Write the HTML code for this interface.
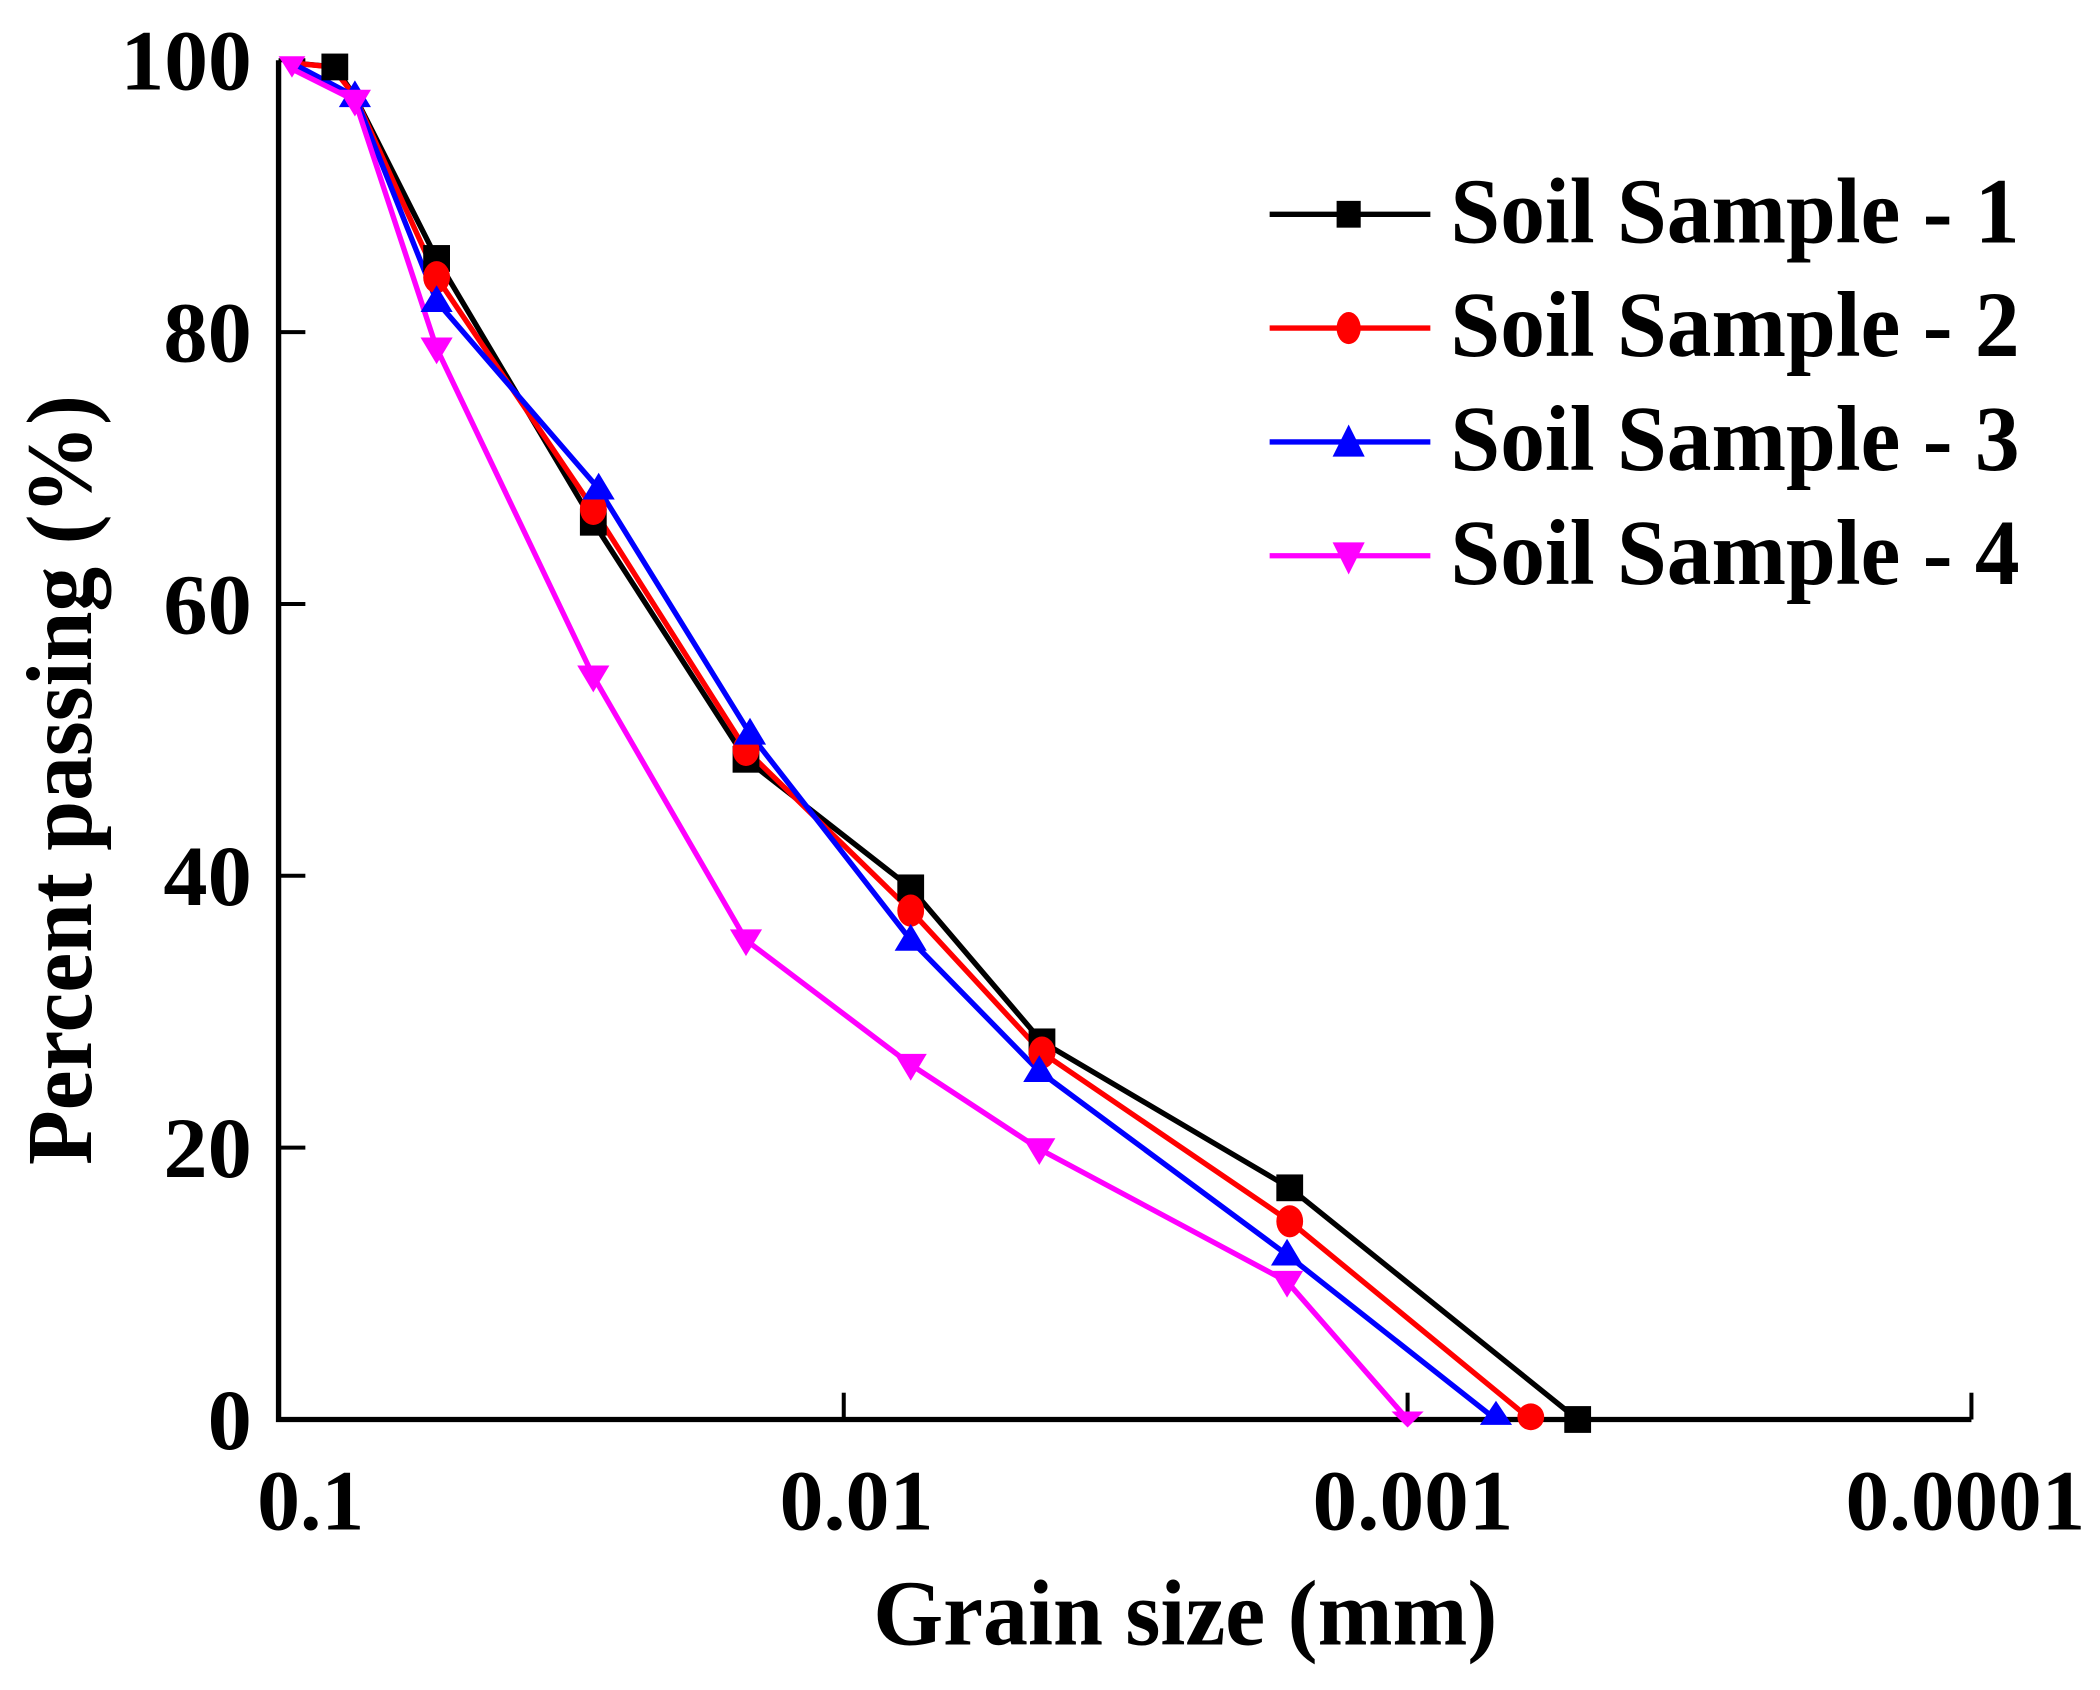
<!DOCTYPE html>
<html><head><meta charset="utf-8"><style>html,body{margin:0;padding:0;background:#fff}svg{display:block}</style></head>
<body>
<svg width="2100" height="1690" viewBox="0 0 1568 1262" preserveAspectRatio="none" xmlns="http://www.w3.org/2000/svg" font-family="'Liberation Serif', serif" font-weight="bold">
<rect width="1568" height="1262" fill="#fff"/>
<path d="M208 45 V1060 H1472" fill="none" stroke="#000" stroke-width="4"/>
<g stroke="#000" stroke-width="3">
<line x1="208" y1="248" x2="228" y2="248"/><line x1="208" y1="451" x2="228" y2="451"/>
<line x1="208" y1="654" x2="228" y2="654"/><line x1="208" y1="857" x2="228" y2="857"/>
<line x1="208" y1="45" x2="228" y2="45"/>
<line x1="630" y1="1060" x2="630" y2="1040"/><line x1="1051" y1="1060" x2="1051" y2="1040"/><line x1="1472" y1="1060" x2="1472" y2="1040"/>
</g>
<g font-size="64" text-anchor="end">
<text x="188" y="67" textLength="98" lengthAdjust="spacingAndGlyphs">100</text>
<text x="188" y="270" textLength="66" lengthAdjust="spacingAndGlyphs">80</text>
<text x="188" y="473" textLength="66" lengthAdjust="spacingAndGlyphs">60</text>
<text x="188" y="676" textLength="66" lengthAdjust="spacingAndGlyphs">40</text>
<text x="188" y="879" textLength="66" lengthAdjust="spacingAndGlyphs">20</text>
<text x="188" y="1082" textLength="33" lengthAdjust="spacingAndGlyphs">0</text>
</g>
<g font-size="64">
<text x="192" y="1142" textLength="80" lengthAdjust="spacingAndGlyphs">0.1</text>
<text x="582" y="1142" textLength="115" lengthAdjust="spacingAndGlyphs">0.01</text>
<text x="980" y="1142" textLength="150" lengthAdjust="spacingAndGlyphs">0.001</text>
<text x="1378" y="1142" textLength="179" lengthAdjust="spacingAndGlyphs">0.0001</text>
</g>
<text x="652" y="1228" font-size="70" textLength="466" lengthAdjust="spacingAndGlyphs">Grain size (mm)</text>
<text transform="translate(68,870) rotate(-90)" font-size="70" textLength="575" lengthAdjust="spacingAndGlyphs">Percent passing (%)</text>
<g fill="none" stroke-width="4" stroke-linejoin="round">
<polyline stroke="#000" points="218,47 250,50 265,72 326,193 443,390 557,567 680,663 778,778 963,887 1178,1060"/>
<polyline stroke="#f00" points="218,47 248,50 265,72 326,207 443,380 557,560 680,680 778,786 963,912 1143,1060"/>
<polyline stroke="#00f" points="218,47 265,72 326,225 447,365 560,548 680,702 776,800 961,937 1117,1060"/>
<polyline stroke="#f0f" points="215,50 265,75 326,260 443,505 557,702 680,795 776,858 961,957 1051,1060"/>
</g>
<g fill="#000">
<rect x="240" y="40" width="20" height="20"/><rect x="316" y="183" width="20" height="20"/><rect x="433" y="380" width="20" height="20"/>
<rect x="547" y="557" width="20" height="20"/><rect x="670" y="653" width="20" height="20"/><rect x="768" y="768" width="20" height="20"/>
<rect x="953" y="877" width="20" height="20"/><rect x="1168" y="1050" width="20" height="20"/>
</g>
<g fill="#f00">
<ellipse cx="326" cy="207" rx="10" ry="12"/><ellipse cx="443" cy="380" rx="10" ry="12"/><ellipse cx="557" cy="560" rx="10" ry="12"/>
<ellipse cx="680" cy="680" rx="10" ry="12"/><ellipse cx="778" cy="786" rx="10" ry="12"/><ellipse cx="963" cy="912" rx="10" ry="12"/><ellipse cx="1143" cy="1058" rx="10" ry="10"/>
</g>
<g fill="#00f">
<path d="M265 60 l12 20 h-24z"/><path d="M326 213 l12 20 h-24z"/><path d="M447 353 l12 20 h-24z"/><path d="M560 536 l12 20 h-24z"/>
<path d="M680 690 l12 20 h-24z"/><path d="M776 788 l12 20 h-24z"/><path d="M961 925 l12 20 h-24z"/><path d="M1117 1046 l12 18 h-24z"/>
</g>
<g fill="#f0f">
<path d="M218 42 h-10 l10 16 l10 -16z"/><path d="M265 67 h-12 l12 20 l12 -20z"/><path d="M326 252 h-12 l12 20 l12 -20z"/><path d="M443 497 h-12 l12 20 l12 -20z"/>
<path d="M557 694 h-12 l12 20 l12 -20z"/><path d="M680 787 h-12 l12 20 l12 -20z"/><path d="M776 850 h-12 l12 20 l12 -20z"/>
<path d="M961 949 h-12 l12 20 l12 -20z"/><path d="M1051 1054 h-12 l12 12 l12 -12z"/>
</g>
<g stroke-width="4">
<line x1="948" y1="160" x2="1068" y2="160" stroke="#000"/>
<line x1="948" y1="245" x2="1068" y2="245" stroke="#f00"/>
<line x1="948" y1="330" x2="1068" y2="330" stroke="#00f"/>
<line x1="948" y1="415" x2="1068" y2="415" stroke="#f0f"/>
</g>
<rect x="998" y="150" width="18" height="20" fill="#000"/>
<ellipse cx="1007" cy="245" rx="9" ry="12" fill="#f00"/>
<path d="M1007 317 l12 24 h-24z" fill="#00f"/>
<path d="M995 405 h24 l-12 24z" fill="#f0f"/>
<g font-size="70">
<text x="1083" y="181" textLength="425" lengthAdjust="spacingAndGlyphs">Soil Sample - 1</text>
<text x="1083" y="266" textLength="425" lengthAdjust="spacingAndGlyphs">Soil Sample - 2</text>
<text x="1083" y="351" textLength="425" lengthAdjust="spacingAndGlyphs">Soil Sample - 3</text>
<text x="1083" y="436" textLength="425" lengthAdjust="spacingAndGlyphs">Soil Sample - 4</text>
</g>
</svg>
</body></html>
